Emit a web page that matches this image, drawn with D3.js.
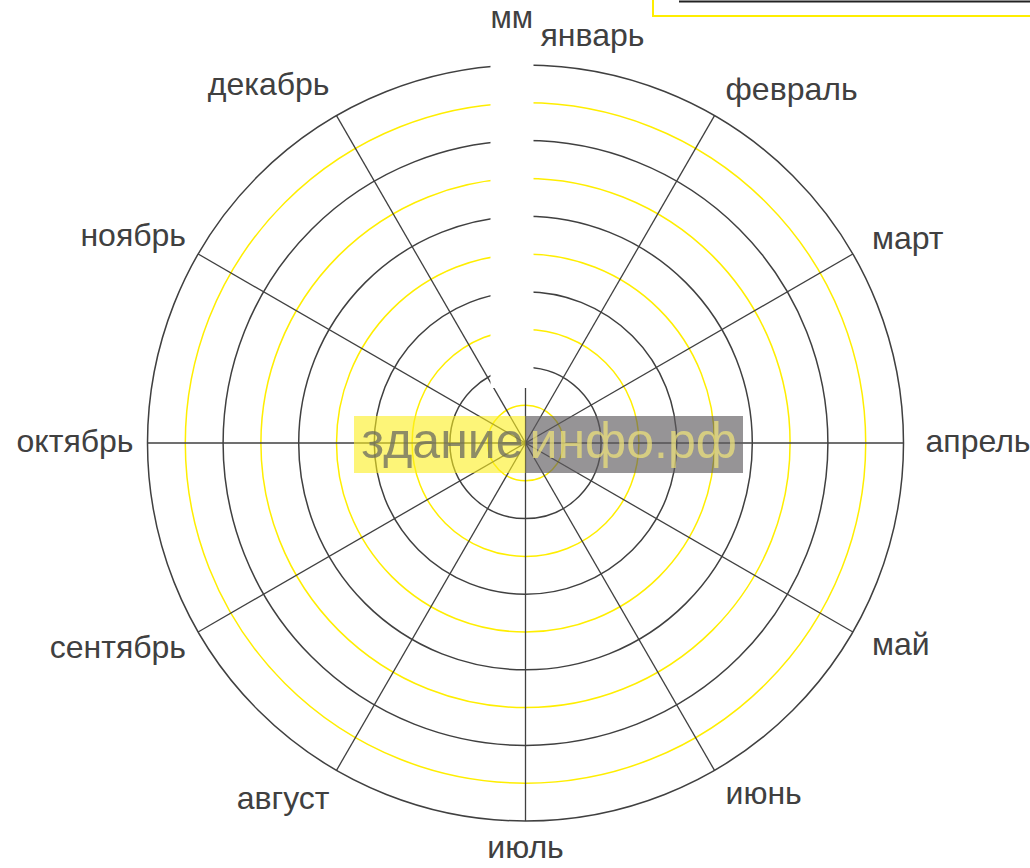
<!DOCTYPE html>
<html>
<head>
  <meta charset="utf-8">
  <style>
    body {
      margin: 0;
      padding: 0;
      background: #fff;
      font-family: "Liberation Sans", Arial, sans-serif;
    }
    svg { display: block; }
  </style>
</head>
<body>
  <div id="chart"></div>

  <script src="https://cdnjs.cloudflare.com/ajax/libs/d3/7.8.5/d3.min.js"></script>
  <script>
    // Data
    const months = ['январь', 'февраль', 'март', 'апрель', 'май', 'июнь',
                    'июль', 'август', 'сентябрь', 'октябрь', 'ноябрь', 'декабрь'];
    const rings = [1, 2, 3, 4, 5, 6, 7, 8, 9, 10];
    const ringMax = 10;
    const axisTitle = 'мм';
    const watermark = ['здание', 'инфо.рф'];

    const width = 1030;
    const height = 868;
    const cx = 525.5;
    const cy = 443;
    const outerRadius = 378;

    const svg = d3.select('#chart')
      .append('svg')
      .attr('width', width)
      .attr('height', height);

    const r = d3.scaleLinear()
      .domain([0, ringMax])
      .range([0, outerRadius]);

    const angle = d3.scaleBand()
      .domain(months)
      .range([0, 2 * Math.PI])
      .align(0)
      .paddingInner(0)
      .paddingOuter(0);

    const g = svg.append('g')
      .attr('transform', `translate(${cx},${cy})`);

    // rings: odd = yellow, even = dark
    g.selectAll('.ring')
      .data(rings)
      .enter()
      .append('circle')
      .attr('class', 'ring')
      .attr('r', d => r(d))
      .attr('fill', 'none')
      .attr('stroke', d => d % 2 === 0 ? '#404040' : '#ffee00')
      .attr('stroke-width', 1.5);

    // spokes
    g.selectAll('.spoke')
      .data(months)
      .enter()
      .append('line')
      .attr('class', 'spoke')
      .attr('x1', 0)
      .attr('y1', 0)
      .attr('x2', d => r(ringMax) * Math.sin(angle(d)))
      .attr('y2', d => -r(ringMax) * Math.cos(angle(d)))
      .attr('stroke', '#404040')
      .attr('stroke-width', 1.3);

    // white band behind the axis title
    svg.append('rect')
      .attr('x', cx - 35)
      .attr('y', 0)
      .attr('width', 43)
      .attr('height', cy - 55)
      .attr('fill', '#fff');

    svg.append('text')
      .attr('x', cx - 35)
      .attr('y', 28)
      .attr('fill', '#404040')
      .attr('font-size', '31px')
      .text(axisTitle);

    // month labels (left side sits a bit closer and lower, like the original)
    const labelPos = (d, i) => {
      const a = angle(d);
      const s = Math.sin(a), c = Math.cos(a);
      const left = s < -0.1;
      const lr = outerRadius + (left ? 14 : 22);
      return {
        x: lr * s + (i === 0 ? 15 : 0),
        y: -lr * c + 9 - (left ? 20 : 6) * c,
        anchor: i === 0 ? 'start' : (s > 0.1 ? 'start' : (left ? 'end' : 'middle'))
      };
    };

    g.selectAll('.month-label')
      .data(months)
      .enter()
      .append('text')
      .attr('class', 'month-label')
      .attr('x', (d, i) => labelPos(d, i).x)
      .attr('y', (d, i) => labelPos(d, i).y)
      .attr('text-anchor', (d, i) => labelPos(d, i).anchor)
      .attr('fill', '#404040')
      .attr('font-size', '32px')
      .text(d => d);

    // legend box (cut by the top edge)
    const legend = svg.append('g');
    legend.append('rect')
      .attr('x', 653)
      .attr('y', -30)
      .attr('width', 420)
      .attr('height', 46)
      .attr('fill', 'none')
      .attr('stroke', '#ffee00')
      .attr('stroke-width', 2);
    legend.append('line')
      .attr('x1', 679)
      .attr('x2', 1040)
      .attr('y1', 1.5)
      .attr('y2', 1.5)
      .attr('stroke', '#222')
      .attr('stroke-width', 2);

    // watermark
    const wm = svg.append('g');
    wm.append('rect')
      .attr('x', 354)
      .attr('y', 416)
      .attr('width', cx - 354)
      .attr('height', 57)
      .attr('fill', '#fbee1e')
      .attr('opacity', 0.6);
    wm.append('rect')
      .attr('x', cx)
      .attr('y', 416)
      .attr('width', 743 - cx)
      .attr('height', 57)
      .attr('fill', '#5e5a5e')
      .attr('opacity', 0.65);
    wm.append('text')
      .attr('x', cx - 2)
      .attr('y', 458)
      .attr('text-anchor', 'end')
      .attr('font-size', '50px')
      .attr('fill', '#6a6a60')
      .attr('opacity', 0.75)
      .text(watermark[0]);
    wm.append('text')
      .attr('x', cx + 4)
      .attr('y', 458)
      .attr('font-size', '50px')
      .attr('fill', '#f2e67a')
      .attr('opacity', 0.7)
      .text(watermark[1]);
  </script>
</body>
</html>
